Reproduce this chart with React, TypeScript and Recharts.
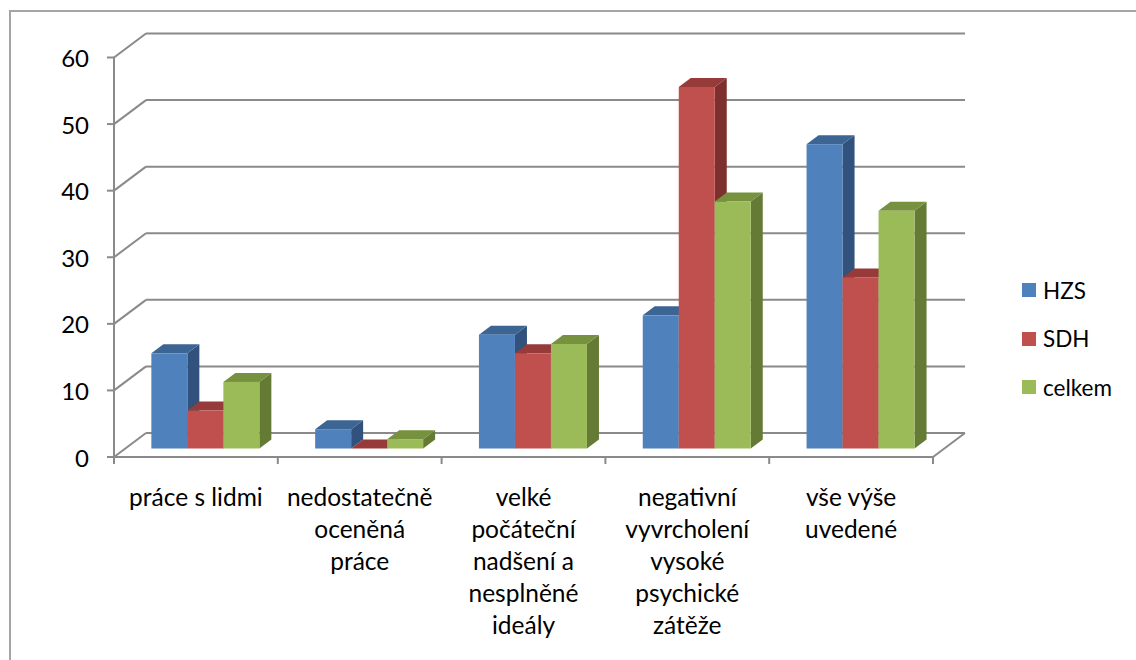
import React from 'react';
import { BarChart, Bar, XAxis, YAxis, CartesianGrid } from 'recharts';

// Category labels, already broken into the lines they are shown on
const categories = [
  'práce s lidmi',
  'nedostatečně oceněná práce',
  'velké počáteční nadšení a nesplněné ideály',
  'negativní vyvrcholení vysoké psychické zátěže',
  'vše výše uvedené',
];
const categoryLines = [
  ['práce s lidmi'],
  ['nedostatečně', 'oceněná', 'práce'],
  ['velké', 'počáteční', 'nadšení a', 'nesplněné', 'ideály'],
  ['negativní', 'vyvrcholení', 'vysoké', 'psychické', 'zátěže'],
  ['vše výše', 'uvedené'],
];

// Series values (%)
const hzs = [14.3, 2.9, 17.1, 20.0, 45.7];
const sdh = [5.7, 0, 14.3, 54.3, 25.7];
const celkem = [10.0, 1.4, 15.7, 37.1, 35.7];

const seriesNames = ['HZS', 'SDH', 'celkem'];
const yTicks = [0, 10, 20, 30, 40, 50, 60];

const data = categories.map((name, i) => ({
  name,
  HZS: hzs[i],
  SDH: sdh[i],
  celkem: celkem[i],
}));

// Face colours for the 3D columns: front, top, side
const palette: Record<string, { front: string; top: string; side: string }> = {
  HZS: { front: '#4F81BD', top: '#3D6594', side: '#30527C' },
  SDH: { front: '#C0504D', top: '#963B39', side: '#7D302E' },
  celkem: { front: '#9BBB59', top: '#77923F', side: '#657A35' },
};

const W = 1136;
const H = 660;
const FONT = "Lato, 'Noto Sans', sans-serif";
const GRID = '#8a8a8a';

// The bars live in a middle plane; the axis sits in front of it and the wall behind it
const FRONT = { dx: -10, dy: 8.5 };
const BACK = { dx: 22, dy: -15.5 };
const BAR_DEPTH = { dx: 12, dy: 9 };

const MARGIN = { top: 49, right: 193, bottom: 21.5, left: 84 };
const Y_AXIS_W = 40;
const X_AXIS_H = 190;
const PLOT_LEFT = MARGIN.left + Y_AXIS_W;
const PLOT_RIGHT = W - MARGIN.right;
const PLOT_TOP = MARGIN.top;
const PLOT_BOTTOM = H - MARGIN.bottom - X_AXIS_H;
const BAND = (PLOT_RIGHT - PLOT_LEFT) / categories.length;

const Column3D = (name: string) => (props: any) => {
  const { x, y, width, height } = props;
  if (x == null || y == null) return null;
  const c = palette[name];
  const h = Math.max(0, height || 0);
  const { dx, dy } = BAR_DEPTH;
  const top = `${x},${y} ${x + dx},${y - dy} ${x + width + dx},${y - dy} ${x + width},${y}`;
  const side = `${x + width},${y} ${x + width + dx},${y - dy} ${x + width + dx},${y + h - dy} ${x + width},${y + h}`;
  return (
    <g>
      <polygon points={side} fill={c.side} />
      <polygon points={top} fill={c.top} />
      {h > 0 && <rect x={x} y={y} width={width} height={h} fill={c.front} />}
    </g>
  );
};

const GridLine = (props: any) => {
  const { x1, x2, y1 } = props;
  const y = y1;
  const lines: React.ReactNode[] = [
    <line key="b" x1={x1 + BACK.dx} y1={y + BACK.dy} x2={x2 + BACK.dx} y2={y + BACK.dy} />,
    <line key="d" x1={x1 + FRONT.dx} y1={y + FRONT.dy} x2={x1 + BACK.dx} y2={y + BACK.dy} />,
  ];
  if (Math.abs(y - PLOT_BOTTOM) < 1) {
    lines.push(
      <line key="f" x1={x1 + FRONT.dx} y1={y + FRONT.dy} x2={x2 + FRONT.dx} y2={y + FRONT.dy} />,
      <line key="r" x1={x2 + FRONT.dx} y1={y + FRONT.dy} x2={x2 + BACK.dx} y2={y + BACK.dy} />,
      <line key="v" x1={x1 + FRONT.dx} y1={PLOT_TOP + FRONT.dy} x2={x1 + FRONT.dx} y2={y + FRONT.dy} />,
    );
  }
  return (
    <g stroke={GRID} strokeWidth={2} fill="none">
      {lines}
    </g>
  );
};

const YTick = (props: any) => {
  const { y, payload } = props;
  const fy = y + FRONT.dy;
  const ax = PLOT_LEFT + FRONT.dx;
  return (
    <g>
      <line x1={ax - 7} y1={fy} x2={ax} y2={fy} stroke={GRID} strokeWidth={2} />
      <text x={ax - 25} y={fy} textAnchor="end" dominantBaseline="central" fontFamily={FONT} fontSize={24} fill="#000">
        {payload.value}
      </text>
    </g>
  );
};

const XTick = (props: any) => {
  const { x, payload } = props;
  const idx = payload.index ?? props.index ?? categories.indexOf(payload.value);
  const fx = x + FRONT.dx;
  const fy = PLOT_BOTTOM + FRONT.dy;
  const lines = categoryLines[idx] || [payload.value];
  const left = fx - BAND / 2;
  const right = fx + BAND / 2;
  return (
    <g>
      <line x1={left} y1={fy} x2={left} y2={fy + 7} stroke={GRID} strokeWidth={2} />
      {idx === categories.length - 1 && (
        <line x1={right} y1={fy} x2={right} y2={fy + 7} stroke={GRID} strokeWidth={2} />
      )}
      <text textAnchor="middle" fontFamily={FONT} fontSize={24.5} fill="#000">
        {lines.map((t: string, i: number) => (
          <tspan key={i} x={fx} y={fy + 49 + i * 32}>
            {t}
          </tspan>
        ))}
      </text>
    </g>
  );
};

export default function App() {
  return (
    <div
      style={{
        position: 'absolute',
        left: 0,
        top: 0,
        width: W,
        height: H,
        overflow: 'hidden',
        background: '#fff',
      }}
    >
      <div
        style={{
          position: 'absolute',
          left: 9,
          top: 10,
          width: W + 40,
          height: H + 40,
          border: '2px solid #a5a5a5',
        }}
      />
      <div style={{ position: 'absolute', left: 0, top: 0 }}>
        <BarChart width={W} height={H} data={data} margin={MARGIN} barCategoryGap="16.7%" barGap={0}>
          <CartesianGrid vertical={false} horizontal={GridLine as any} />
          <XAxis
            dataKey="name"
            height={X_AXIS_H}
            axisLine={false}
            tickLine={false}
            interval={0}
            tick={XTick as any}
          />
          <YAxis
            width={Y_AXIS_W}
            domain={[0, 60]}
            ticks={yTicks}
            interval={0}
            axisLine={false}
            tickLine={false}
            tick={YTick as any}
          />
          {seriesNames.map((s) => (
            <Bar key={s} dataKey={s} isAnimationActive={false} shape={Column3D(s)} fill={palette[s].front} />
          ))}
        </BarChart>
      </div>
      <div style={{ position: 'absolute', left: 1022, top: 266, fontFamily: FONT, fontSize: 22.5, color: '#000' }}>
        {seriesNames.map((s) => (
          <div key={s} style={{ display: 'flex', alignItems: 'center', height: 48.5 }}>
            <div style={{ width: 14, height: 14, background: palette[s].front, marginRight: 7 }} />
            <span>{s}</span>
          </div>
        ))}
      </div>
    </div>
  );
}
